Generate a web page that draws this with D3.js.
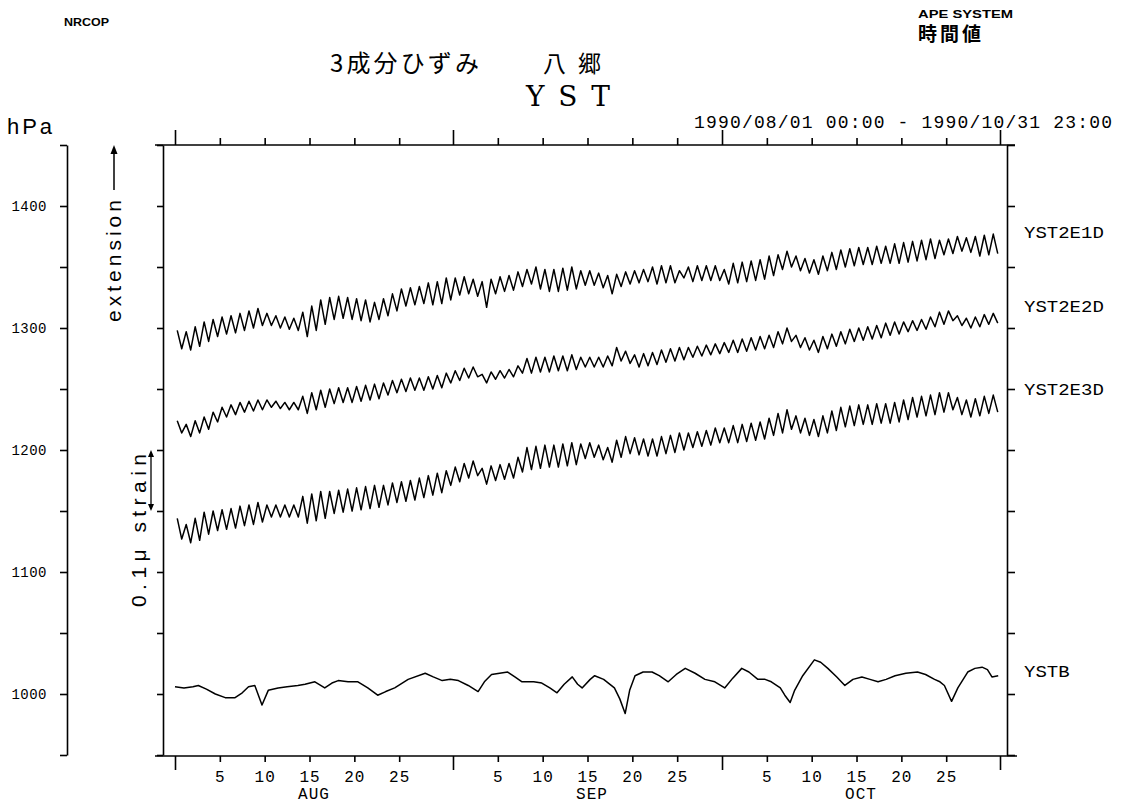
<!DOCTYPE html>
<html><head><meta charset="utf-8">
<script src="https://cdn.jsdelivr.net/npm/d3@7"></script>
<style>body{margin:0;background:#fff}svg{display:block}</style>
</head><body><svg id="c" width="1122" height="806"></svg>
<script>
// ---- data (chart units on the hPa scale; day index from 1990/08/01 00:00) ----
const dayIndex = d3.range(92);
const e1Hi = [1298,1297,1301,1305,1307,1309,1310,1312,1314,1316,1312,1310,1309,1308,1313,1318,1323,1325,1326,1325,1324,1323,1321,1324,1328,1332,1333,1334,1337,1338,1341,1341,1342,1340,1338,1340,1342,1343,1346,1348,1350,1348,1348,1349,1350,1347,1347,1345,1343,1344,1346,1347,1348,1350,1351,1351,1347,1350,1351,1351,1351,1348,1353,1354,1355,1356,1359,1360,1363,1359,1357,1356,1359,1362,1364,1365,1366,1366,1367,1367,1369,1370,1371,1372,1373,1372,1373,1375,1374,1375,1376,1377];
const e1Lo = [1283,1282,1285,1289,1293,1295,1296,1298,1300,1302,1302,1300,1299,1298,1293,1298,1303,1307,1308,1307,1306,1305,1307,1310,1314,1318,1319,1320,1319,1320,1323,1327,1328,1326,1317,1328,1330,1331,1334,1336,1332,1330,1330,1331,1332,1335,1335,1333,1328,1334,1336,1337,1338,1336,1337,1337,1341,1338,1339,1339,1339,1336,1337,1338,1339,1340,1343,1348,1350,1347,1345,1344,1347,1348,1350,1351,1352,1352,1353,1353,1353,1354,1355,1356,1357,1360,1361,1363,1362,1359,1360,1361];
const e2Hi = [1224,1221,1224,1227,1231,1235,1237,1239,1240,1241,1241,1240,1239,1239,1244,1247,1249,1250,1251,1251,1252,1253,1254,1255,1257,1258,1259,1259,1260,1261,1263,1265,1267,1268,1262,1264,1265,1266,1269,1275,1276,1276,1277,1277,1278,1276,1276,1276,1277,1284,1281,1278,1279,1280,1282,1283,1284,1284,1285,1286,1287,1288,1290,1291,1292,1293,1294,1297,1300,1294,1292,1290,1293,1295,1297,1299,1300,1301,1302,1304,1305,1305,1306,1307,1309,1313,1314,1310,1308,1309,1311,1312];
const e2Lo = [1214,1211,1214,1217,1223,1227,1229,1231,1232,1233,1235,1234,1233,1233,1230,1233,1235,1238,1239,1239,1240,1241,1242,1245,1247,1248,1249,1249,1250,1251,1255,1257,1259,1260,1255,1258,1259,1260,1263,1263,1264,1264,1265,1265,1266,1268,1268,1268,1269,1273,1271,1268,1269,1270,1272,1273,1274,1276,1277,1278,1279,1280,1280,1281,1282,1283,1284,1287,1289,1284,1282,1280,1283,1285,1287,1289,1290,1291,1292,1294,1295,1297,1298,1299,1301,1303,1306,1302,1300,1301,1303,1304];
const e3Hi = [1144,1139,1144,1149,1150,1151,1152,1154,1155,1157,1155,1155,1155,1155,1162,1164,1166,1166,1167,1168,1169,1170,1171,1171,1173,1174,1175,1177,1179,1181,1183,1186,1189,1191,1185,1187,1188,1189,1194,1202,1203,1204,1204,1205,1206,1205,1206,1204,1202,1208,1211,1210,1209,1209,1211,1212,1214,1214,1215,1216,1218,1218,1220,1221,1222,1223,1226,1230,1233,1228,1226,1225,1228,1232,1235,1236,1237,1237,1238,1238,1239,1241,1243,1244,1245,1247,1247,1243,1241,1242,1244,1245];
const e3Lo = [1127,1124,1126,1131,1134,1135,1136,1138,1139,1141,1145,1145,1145,1145,1140,1142,1144,1148,1149,1150,1151,1152,1153,1155,1157,1158,1159,1161,1163,1165,1171,1174,1177,1179,1172,1175,1176,1177,1182,1184,1185,1186,1186,1187,1188,1193,1194,1192,1190,1194,1197,1196,1195,1195,1197,1198,1200,1202,1203,1204,1206,1206,1206,1207,1208,1209,1212,1214,1217,1214,1212,1211,1214,1216,1219,1220,1221,1221,1222,1222,1223,1225,1227,1228,1229,1231,1233,1229,1227,1228,1230,1231];
const ystb = [[0,1006],[1,1005],[2,1006],[2.6,1007],[3.5,1004],[4.5,1000],[5.6,997],[6.7,997],[7.5,1001],[8.2,1006],[8.9,1007],[9.7,991],[10.4,1003],[11.5,1005],[12.5,1006],[13.7,1007],[14.5,1008],[15.6,1010],[16.7,1005],[17.5,1009],[18.2,1011],[19.3,1010],[20.4,1010],[21.5,1005],[22.6,999],[23.5,1002],[24.5,1005],[26,1012],[27.9,1017],[28.8,1014],[29.8,1011],[30.7,1012],[31.6,1011],[32.7,1007],[33.8,1002],[34.5,1010],[35.3,1016],[36.2,1017],[37.1,1018],[37.9,1014],[38.7,1010],[40,1010],[40.9,1009],[41.8,1005],[42.6,1001],[43.4,1008],[44.3,1014],[44.9,1008],[45.4,1005],[46.3,1012],[46.8,1015],[47.8,1012],[49,1005],[49.6,996],[50.2,984],[50.7,1003],[51.3,1015],[52.2,1018],[53.2,1018],[54,1015],[55,1010],[55.9,1016],[56.9,1021],[58,1017],[59.1,1012],[60.2,1010],[61.3,1005],[62.2,1013],[63.2,1021],[64,1018],[65,1012],[65.8,1012],[66.5,1010],[67.5,1005],[68,999],[68.6,993],[69.1,1003],[70,1015],[71.3,1028],[72,1026],[72.8,1021],[73.8,1014],[74.7,1007],[75.6,1012],[76.6,1014],[77.5,1012],[78.4,1010],[79.3,1012],[80.3,1015],[81.5,1017],[82.8,1018],[83.7,1016],[84.7,1012],[85.3,1010],[85.8,1007],[86.6,994],[87.3,1005],[88.4,1018],[89.2,1021],[90,1022],[90.6,1020],[91.1,1014],[91.8,1015]];
const seriesNames = ["YST2E1D","YST2E2D","YST2E3D","YSTB"];
const monthNames = ["AUG","SEP","OCT"];
const monthStarts = [0,31,61];
const periodEnd = 92;
const dayTickLabels = [5,10,15,20,25];
const hpaTicks = d3.range(950,1451,50);
const hpaLabels = [1000,1100,1200,1300,1400];
const strainBar = [1150,1200]; // 0.1 micro strain

// ---- layout ----
const fL = 163, fR = 1007, fT = 145, fB = 756;
const pAxisX = 67;
const labelLevels = [1379,1318,1250,1019];
const svg = d3.select("#c");
const x = d3.scaleLinear().domain([0, periodEnd]).range([175, 1000]);
const y = d3.scaleLinear().domain([950, 1450]).range([755, 145]);
const MONO = "'Liberation Mono', monospace";
const SANS = "'Liberation Sans', 'DejaVu Sans', sans-serif";
const CJK = "'Noto Sans CJK JP', sans-serif";

function styleAxis(g){ g.selectAll("path,line").attr("stroke","#000").attr("stroke-width",1.6); g.selectAll("path.domain").attr("fill","none"); }

// left pressure axis
const pg = svg.append("g").attr("transform",`translate(${pAxisX},0)`)
  .call(d3.axisLeft(y).tickValues(hpaTicks).tickSize(7).tickSizeOuter(0).tickPadding(13)
    .tickFormat(v => hpaLabels.includes(v) ? String(v) : ""));
styleAxis(pg);
pg.selectAll("text").attr("font-family",MONO).attr("font-size",14).attr("fill","#000").attr("letter-spacing",0.5);

// frame left / right
const fl = svg.append("g").attr("transform",`translate(${fL},0)`)
  .call(d3.axisLeft(y).tickValues(hpaTicks).tickSize(6).tickSizeOuter(0).tickFormat(""));
styleAxis(fl);
const fr = svg.append("g").attr("transform",`translate(${fR},0)`)
  .call(d3.axisRight(y).tickValues(hpaTicks).tickSize(8).tickSizeOuter(0).tickFormat(""));
styleAxis(fr);

// top & bottom time axes
const minorDays = monthStarts.flatMap(m => dayTickLabels.map(d => m + d));
const majorDays = monthStarts.concat([periodEnd]);
svg.append("line").attr("x1",fL-8).attr("x2",fR+8).attr("y1",fT).attr("y2",fT).attr("stroke","#000").attr("stroke-width",1.6);
svg.append("line").attr("x1",fL-8).attr("x2",fR+10).attr("y1",fB).attr("y2",fB).attr("stroke","#000").attr("stroke-width",1.6);
const tMin = svg.append("g").attr("transform",`translate(0,${fT})`).call(d3.axisTop(x).tickValues(minorDays).tickSize(7).tickFormat(""));
const tMaj = svg.append("g").attr("transform",`translate(0,${fT})`).call(d3.axisTop(x).tickValues(majorDays).tickSize(15).tickFormat(""));
[tMin,tMaj].forEach(g => { styleAxis(g); g.select(".domain").remove(); });
const bMin = svg.append("g").attr("transform",`translate(0,${fB})`)
  .call(d3.axisBottom(x).tickValues(minorDays).tickSize(6).tickPadding(9).tickFormat(d => String(dayTickLabels[minorDays.indexOf(d) % 5])));
const bMaj = svg.append("g").attr("transform",`translate(0,${fB})`).call(d3.axisBottom(x).tickValues(majorDays).tickSize(14).tickFormat(""));
[bMin,bMaj].forEach(g => { styleAxis(g); g.select(".domain").remove(); });
bMin.selectAll("text").attr("font-family",MONO).attr("font-size",16).attr("fill","#000").attr("letter-spacing",1);
svg.append("g").selectAll("text").data(monthNames).join("text")
  .attr("x",(d,i)=>x([15.5,46.5,76.5][i])).attr("y",799).attr("text-anchor","middle")
  .attr("font-family",MONO).attr("font-size",16).attr("letter-spacing",1).text(d=>d);

// series
const zig = (hi, lo) => dayIndex.flatMap(d => [[d + 0.25, hi[d]], [d + 0.75, lo[d]]]);
const line = d3.line().x(p => x(p[0])).y(p => y(p[1]));
const lines = [zig(e1Hi,e1Lo), zig(e2Hi,e2Lo), zig(e3Hi,e3Lo), ystb];
svg.append("g").selectAll("path").data(lines).join("path")
  .attr("d", line).attr("fill","none").attr("stroke","#000").attr("stroke-width",1.5).attr("stroke-linejoin","round");

// series labels
svg.append("g").selectAll("text").data(seriesNames).join("text")
  .attr("x",1024).attr("y",(d,i)=>y(labelLevels[i])+6)
  .attr("font-family",MONO).attr("font-size",16).attr("textLength",(d)=>d.length*11.4).attr("lengthAdjust","spacingAndGlyphs").text(d=>d);

// header texts
const T = (t, xx, yy, font, size, len, adj, extra) => {
  const e = svg.append("text").attr("x",xx).attr("y",yy).attr("font-family",font).attr("font-size",size).attr("fill","#000").text(t);
  if (len) e.attr("textLength",len).attr("lengthAdjust",adj || "spacingAndGlyphs");
  if (extra) Object.entries(extra).forEach(([k,v]) => e.attr(k,v));
  return e;
};
T("NRCOP", 64, 26, SANS, 11, 45, null, {"font-weight":"bold"});
T("APE SYSTEM", 918, 18, SANS, 10, 95, null, {"font-weight":"bold"});
T("時間値", 918, 41, CJK, 19, 63, "spacing", {"font-weight":"bold"});
T("3成分ひずみ", 330, 72, CJK, 24, 149, "spacing");
T("八郷", 543, 72, CJK, 23, 58, "spacing");
T("YST", 526, 106, "'DejaVu Serif', 'Liberation Serif', serif", 28, 84, "spacing", {"font-weight":"300"});
T("1990/08/01 00:00 - 1990/10/31 23:00", 694, 128, MONO, 18, 418, "spacing");
T("hPa", 7, 134, SANS, 22, 45, "spacing");

// rotated annotations
svg.append("text").attr("transform","translate(121,322) rotate(-90)")
  .attr("font-family",SANS).attr("font-size",21).attr("textLength",122).attr("lengthAdjust","spacing").text("extension");
svg.append("text").attr("transform","translate(146,607) rotate(-90)")
  .attr("font-family",SANS).attr("font-size",21).attr("textLength",153).attr("lengthAdjust","spacing").text("0.1μ strain");

// extension arrow
svg.append("line").attr("x1",114).attr("x2",114).attr("y1",190).attr("y2",150).attr("stroke","#000").attr("stroke-width",1.5);
svg.append("path").attr("d",`M114,145 L110.5,154 L117.5,154 Z`).attr("fill","#000");
// strain bar
const sy0 = y(strainBar[1]), sy1 = y(strainBar[0]);
svg.append("line").attr("x1",151).attr("x2",151).attr("y1",sy0+4).attr("y2",sy1-4).attr("stroke","#000").attr("stroke-width",1.3);
svg.append("path").attr("d",`M151,${sy0} L148,${sy0+7} L154,${sy0+7} Z M151,${sy1} L148,${sy1-7} L154,${sy1-7} Z`).attr("fill","#000");
</script></body></html>
